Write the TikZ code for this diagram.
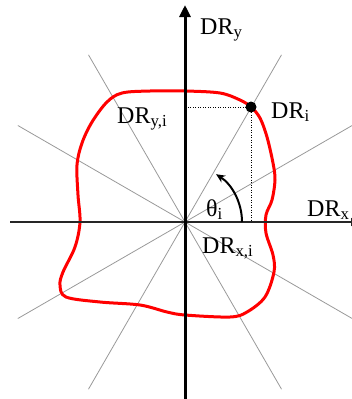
\documentclass[tikz,border=0pt]{standalone}
\usepackage{fontspec}
\setmainfont{Liberation Serif}
\usetikzlibrary{arrows.meta}
\begin{document}
\begin{tikzpicture}[x=1pt,y=-1pt,
  lbl/.style={anchor=base west, inner sep=0pt, font=\fontsize{24}{28}\selectfont},
  ray/.style={gray!80, line width=0.8pt},
  dots/.style={line width=0.9pt, dash pattern=on 0.9pt off 1.6pt},
  curve/.style={red, line width=3pt, line join=round}]
\useasboundingbox (0,0) rectangle (352,399);
\coordinate (O) at (185,222);
\foreach \a in {30,60,120,150,210,240,300,330}
  \draw[ray] (O) -- ++(-\a:193);
% red closed curve
\draw[curve] plot[smooth cycle, tension=0.55] coordinates {
 (185,91) (220,93) (240,100) (251,107) (260,118) (267,137) (273,163) (275,180)
 (272,200) (266,215) (266,233) (273,255) (274,272) (265,297) (247,312) (230,317)
 (185,315) (167,312) (140,305) (100,302) (66,297) (60,285) (63,272) (75,247)
 (80,222) (78,195) (77,165) (82,143) (92,122) (107,102) (122,93) (150,91)};
% axes
\coordinate (xl) at (10,222);
\coordinate (xr) at (360,222);
\coordinate (yb) at (185,402);
\coordinate (yt) at (185,5);
\draw[line width=1.5pt, black!85, -{Triangle[length=9pt,width=8pt]}] (xl) -- (xr);
\draw[line width=3pt, -{Triangle[length=12pt,width=11pt]}] (yb) -- (yt);
% point
\node[circle, fill=black, inner sep=0pt, minimum size=11pt] (Pi) at (251,107) {};
\coordinate (Py) at (185,107);
\coordinate (Px) at (251,222);
\draw[dots] (Pi.center) -- (Py);
\draw[dots] (Pi.center) -- (Px);
% angle arc
\draw[line width=2pt, -{Stealth[length=9pt,width=8pt]}] (O) ++(57,0) arc[start angle=0, end angle=-57, radius=57];
% labels
\node[lbl] (ly) at (200,34) {DR\textsubscript{y}};
\node[lbl] (li) at (271,118) {DR\textsubscript{i}};
\node[lbl] (lyi) at (117,123) {DR\textsubscript{y,i}};
\node[lbl] (lth) at (206,216) {θ\textsubscript{i}};
\node[lbl] (lxi) at (202,253) {DR\textsubscript{x,i}};
\node[lbl] (lx) at (307,216) {DR\textsubscript{x}};
\end{tikzpicture}
\end{document}
